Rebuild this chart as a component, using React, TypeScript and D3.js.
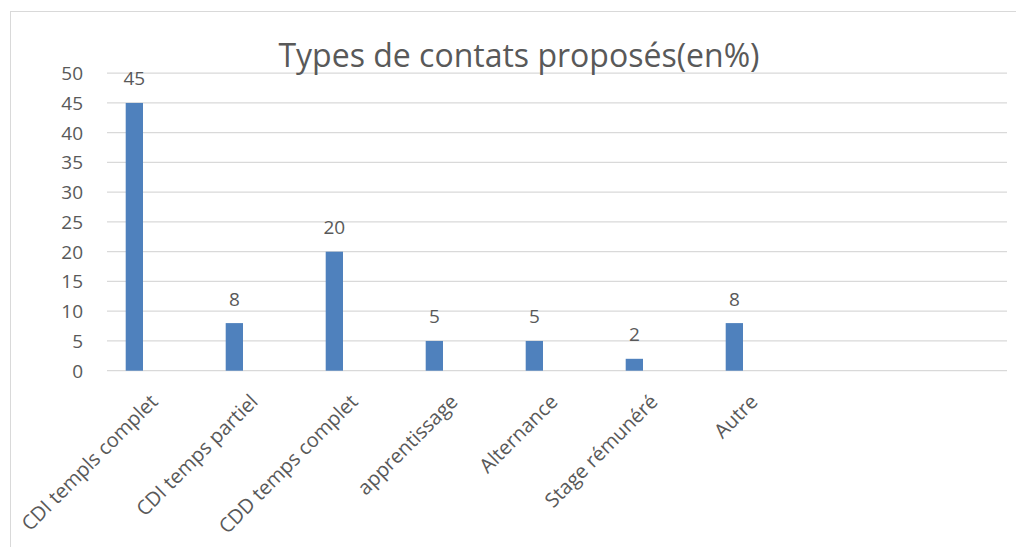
import React from "react";
import * as d3 from "d3";

const categories = [
  "CDI templs complet",
  "CDI temps partiel",
  "CDD temps complet",
  "apprentissage",
  "Alternance",
  "Stage rémunéré",
  "Autre",
];
const values = [45, 8, 20, 5, 5, 2, 8];
const emptySlots = ["__e1", "__e2"];
const yTicks = [0, 5, 10, 15, 20, 25, 30, 35, 40, 45, 50];
const title = "Types de contats proposés(en%)";

const W = 1016;
const H = 547;
const plotLeft = 107;
const plotRight = 1007;
const plotTop = 73.2;
const plotBottom = 370.7;

export default function App() {
  const x = d3
    .scaleBand<string>()
    .domain([...categories, ...emptySlots])
    .range([plotLeft, plotRight])
    .paddingInner(0)
    .paddingOuter(0);
  const y = d3.scaleLinear().domain([0, 50]).range([plotBottom, plotTop]);
  const bw = x.bandwidth();
  const barW = bw * 0.173;
  const barOff = bw * 0.187;
  const textColor = "#595959";
  const font = "'Open Sans', 'DejaVu Sans', sans-serif";

  return (
    <svg
      width={W}
      height={H}
      style={{ position: "absolute", left: 0, top: 0, background: "#fff" }}
      fontFamily={font}
    >
      <rect x={0} y={0} width={W} height={H} fill="#fff" />
      <rect
        x={10.5}
        y={11.5}
        width={1100}
        height={600}
        fill="none"
        stroke="#d9d9d9"
        strokeWidth={1}
      />
      {yTicks.map((t) => (
        <g key={t}>
          <line
            x1={plotLeft}
            x2={plotRight}
            y1={y(t)}
            y2={y(t)}
            stroke="#d9d9d9"
            strokeWidth={1.3}
          />
          <text
            x={83}
            y={y(t)}
            dy="0.36em"
            textAnchor="end"
            fontSize={19}
            fill={textColor}
          >
            {t}
          </text>
        </g>
      ))}
      {categories.map((c, i) => {
        const bx = (x(c) as number) + barOff;
        return (
          <g key={c}>
            <rect
              x={bx}
              y={y(values[i])}
              width={barW}
              height={y(0) - y(values[i])}
              fill="#4F81BD"
            />
            <text
              x={bx + barW / 2}
              y={y(values[i]) - 17.5}
              textAnchor="middle"
              fontSize={19}
              fill={textColor}
            >
              {values[i]}
            </text>
            <text
              transform={`translate(${(x(c) as number) + bw / 2 + 2},${403}) rotate(-45)`}
              textAnchor="end"
              fontSize={20}
              fill={textColor}
            >
              {c}
            </text>
          </g>
        );
      })}
      <text
        x={519}
        y={67}
        textAnchor="middle"
        fontSize={32}
        fill={textColor}
      >
        {title}
      </text>
    </svg>
  );
}
